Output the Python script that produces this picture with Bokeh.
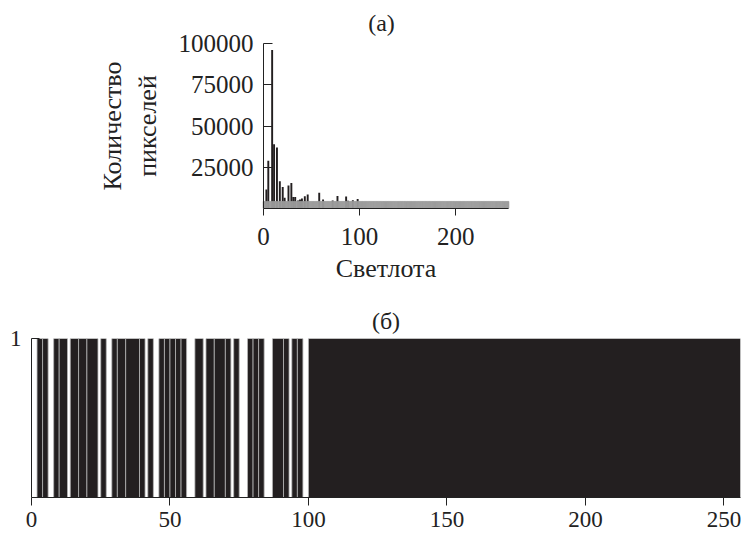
from bokeh.plotting import figure
from bokeh.layouts import column
from bokeh.models import Range1d, ColumnDataSource, LinearAxis, Label
from bokeh.embed import file_html
from bokeh.resources import INLINE

# ---------------- data ----------------
levels = list(range(256))

# (а) histogram: levels with visible counts and their counts
hist_levels = [3, 5, 9, 11, 14, 17, 20, 22, 26, 29, 31, 33, 36, 38, 40, 43, 46,
               58, 62, 72, 77, 86, 88, 93, 98]
hist_counts = [11500, 29000, 96000, 39000, 37000, 16500, 13000, 6500, 14000,
               15500, 7000, 7000, 4800, 5500, 6000, 7500, 8500, 9500, 5500,
               4800, 7600, 7300, 4700, 5000, 5800]
gray_floor = 4300  # small count present at every level (grey strip)

# (б) occupancy: segments of levels (inclusive) whose value is 1
occupied_runs = [(2, 3), (4, 5), (8, 9), (10, 12), (14, 16), (17, 19),
                 (20, 23), (25, 26), (29, 30), (31, 33), (34, 38), (39, 40),
                 (42, 43), (46, 47), (48, 49), (50, 51), (52, 53), (54, 55),
                 (59, 61), (63, 65), (66, 69), (70, 71), (73, 74), (78, 79),
                 (80, 81), (82, 83), (87, 90), (91, 92), (94, 95), (96, 97),
                 (100, 255)]

x_ticks_a = [0, 100, 200]
y_ticks_a = [25000, 50000, 75000, 100000]
y_tick_labels_a = ["25000", "50000", "75000", "100000"]
x_ticks_b = [0, 50, 100, 150, 200, 250]
y_ticks_b = [1]

title_a = "(а)"
title_b = "(б)"
xlabel_a = "Светлота"
ylabel_a = "Количество\nпикселей"

FONT = "Liberation Serif"
BAR = "#231f20"
GREY = "#9c9c9c"
INK = "#222222"

# ---------------- (а) ----------------
# frame spans the full width like (б); the ranges are padded so that
# levels 0..255 and counts 0..100000 sit where the original shows them
K = 245 / 255.0            # px per level
V = 165 / 100000.0         # px per count
p1 = figure(width=743, height=300,
            x_range=Range1d(-(263 - 31) / K, 255 + (740 - 508) / K),
            y_range=Range1d(0, 100000 + (43 - 10) / V), output_backend="svg",
            toolbar_location=None, y_axis_location=None,
            min_border_left=31, min_border_right=3,
            min_border_top=10, min_border_bottom=92)
p1.vbar(x=hist_levels, top=hist_counts, width=2, bottom=0,
        fill_color=BAR, line_color=None)
p1.vbar(x=levels, top=gray_floor, width=1, bottom=0,
        fill_color=GREY, line_color=GREY, line_width=0.6)

yax = LinearAxis(fixed_location=0, ticker=y_ticks_a,
                 major_label_overrides=dict(zip(y_ticks_a, y_tick_labels_a)),
                 axis_label=ylabel_a, bounds=(0, 100000))
p1.add_layout(yax, "left")

p1.add_layout(Label(x=(381 - 263) / K, y=(208 - 22) / V, text=title_a,
                    text_font=FONT, text_font_size="24px", text_color=INK,
                    text_align="center", text_baseline="middle"))

p1.xaxis.ticker = x_ticks_a
p1.xaxis.bounds = (0, 255)
p1.xaxis.axis_label = xlabel_a
for ax in (p1.xaxis[0], yax):
    ax.major_label_text_font = FONT
    ax.major_label_text_font_size = "25px"
    ax.major_label_text_color = INK
    ax.axis_label_text_font = FONT
    ax.axis_label_text_font_size = "26px"
    ax.axis_label_text_font_style = "normal"
    ax.axis_label_text_color = INK
    ax.minor_tick_line_color = None
    ax.axis_line_color = INK
    ax.major_tick_line_color = INK
p1.xaxis.major_tick_in = 0
p1.xaxis.major_tick_out = 7
p1.xaxis.major_label_standoff = 12
p1.xaxis.axis_label_standoff = 6
yax.major_tick_in = 9
yax.major_tick_out = 0
yax.major_label_standoff = 10
yax.axis_label_standoff = 14
p1.grid.visible = False
p1.outline_line_color = None

# ---------------- (б) ----------------
run_src = ColumnDataSource(dict(
    left=[r[0] for r in occupied_runs],
    right=[r[1] + 1 for r in occupied_runs],
))
p2 = figure(width=743, height=240, x_range=Range1d(0, 256),
            y_range=Range1d(0, 1), output_backend="svg",
            toolbar_location=None, min_border_left=31, min_border_right=3,
            min_border_top=34, min_border_bottom=43, title=title_b)
p2.quad(left="left", right="right", bottom=0, top=1, source=run_src,
        fill_color=BAR, line_color="#b5b5b5", line_width=0.8)

p2.title.align = "center"
p2.title.text_font = FONT
p2.title.text_font_style = "normal"
p2.title.text_font_size = "24px"
p2.title.text_color = INK

p2.xaxis.ticker = x_ticks_b
p2.yaxis.ticker = y_ticks_b
for ax in (p2.xaxis[0], p2.yaxis[0]):
    ax.major_label_text_font = FONT
    ax.major_label_text_font_size = "23px"
    ax.major_label_text_color = INK
    ax.minor_tick_line_color = None
    ax.axis_line_color = INK
    ax.major_tick_line_color = INK
p2.xaxis.major_tick_in = 0
p2.xaxis.major_tick_out = 8
p2.xaxis.major_label_standoff = 6
p2.yaxis.major_tick_in = 8
p2.yaxis.major_tick_out = 0
p2.yaxis.major_label_standoff = 10
p2.grid.visible = False
p2.outline_line_color = None

layout = column(p1, p2)
open("out.html", "w").write(file_html(layout, INLINE))
